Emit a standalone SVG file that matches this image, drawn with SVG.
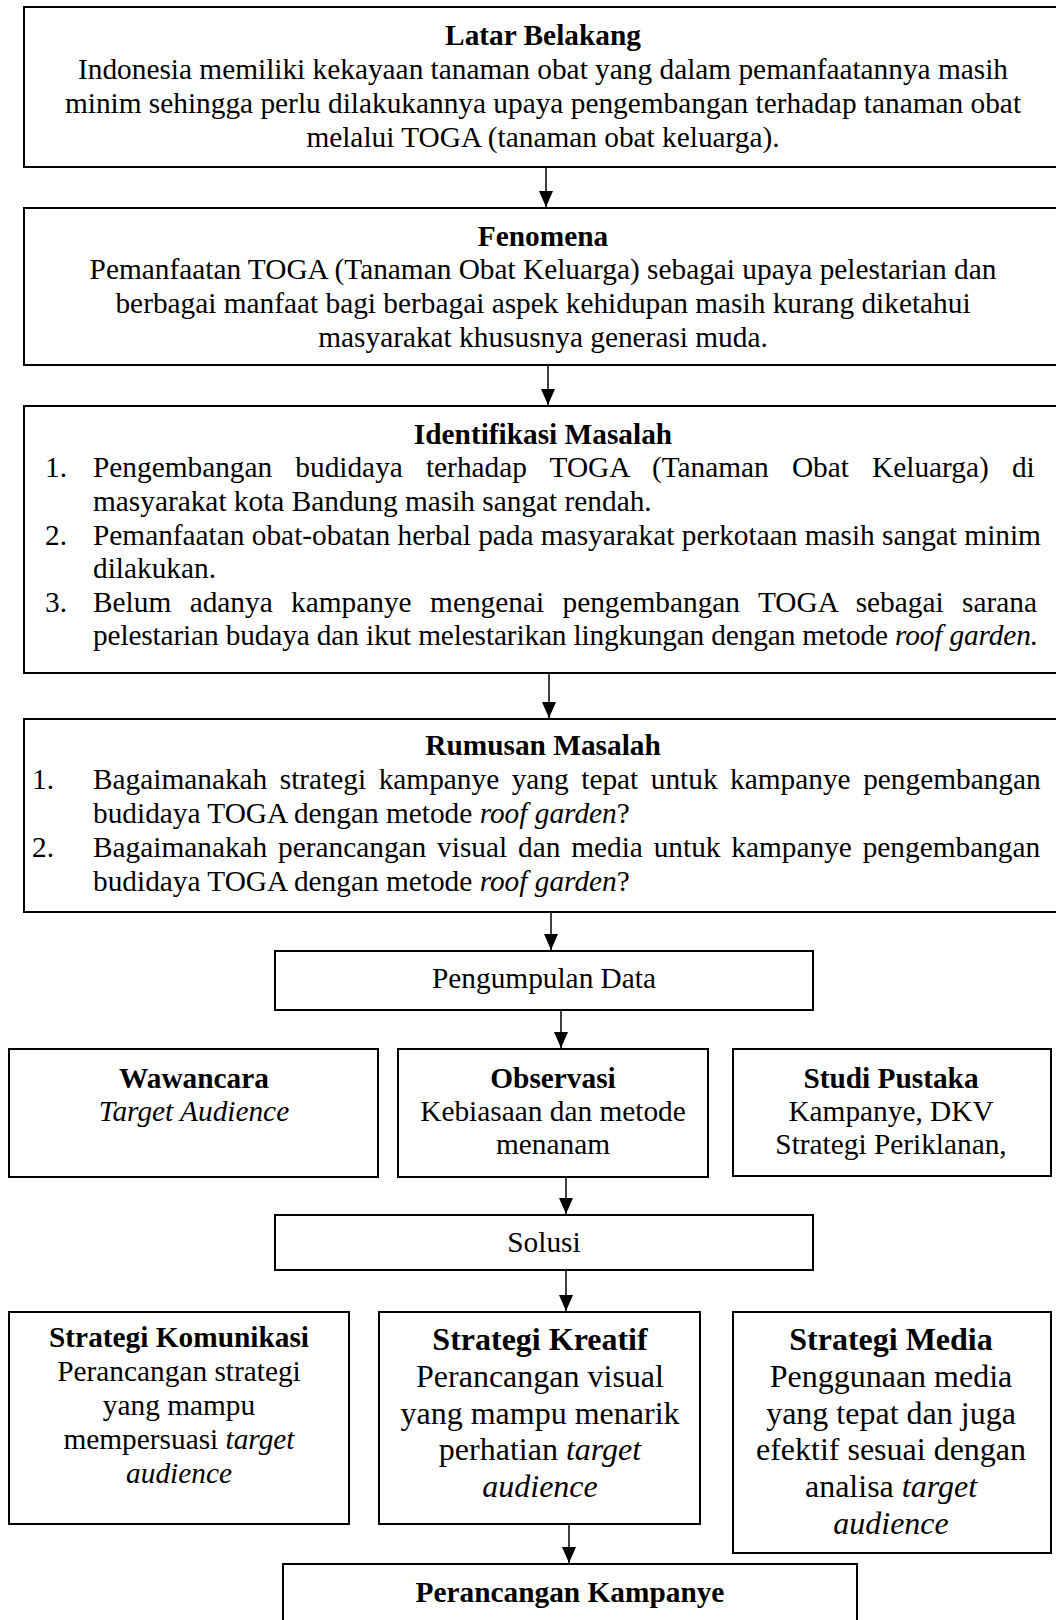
<svg xmlns="http://www.w3.org/2000/svg" width="1056" height="1620" viewBox="0 0 1056 1620">
<style>
.box{fill:#fff;stroke:#000;stroke-width:2}
.t{font-family:"Liberation Serif","Times New Roman",serif;font-size:29.33px;fill:#000}
.b{font-weight:bold}
.c{text-anchor:middle}
.i{font-style:italic}
.l{font-size:32px}
.con{stroke:#000;stroke-width:1.5;fill:none;marker-end:url(#ah)}
</style>
<defs>
<marker id="ah" markerUnits="userSpaceOnUse" markerWidth="16" markerHeight="14" refX="16" refY="7" orient="auto">
<path d="M0,0 L16,7 L0,14 z" fill="#000"/>
</marker>
</defs>
<rect width="1056" height="1620" fill="#fff"/>

<g id="connectors">
<line class="con" x1="546" y1="167" x2="546" y2="207"/>
<line class="con" x1="548" y1="365" x2="548" y2="405"/>
<line class="con" x1="549" y1="673" x2="549" y2="718"/>
<line class="con" x1="551" y1="912" x2="551" y2="950"/>
<line class="con" x1="561" y1="1010" x2="561" y2="1048"/>
<line class="con" x1="566" y1="1177" x2="566" y2="1214"/>
<line class="con" x1="566" y1="1270" x2="566" y2="1311"/>
<line class="con" x1="569" y1="1524" x2="569" y2="1563"/>
</g>

<g id="latar-belakang">
<rect class="box" x="24" y="7" width="1040" height="160"/>
<text class="t b c" x="543" y="45">Latar Belakang</text>
<text class="t c" x="543" y="79">Indonesia memiliki kekayaan tanaman obat yang dalam pemanfaatannya masih</text>
<text class="t c" x="543" y="113">minim sehingga perlu dilakukannya upaya pengembangan terhadap tanaman obat</text>
<text class="t c" x="543" y="147">melalui TOGA (tanaman obat keluarga).</text>
</g>

<g id="fenomena">
<rect class="box" x="24" y="208" width="1040" height="157"/>
<text class="t b c" x="543" y="246">Fenomena</text>
<text class="t c" x="543" y="279">Pemanfaatan TOGA (Tanaman Obat Keluarga) sebagai upaya pelestarian dan</text>
<text class="t c" x="543" y="313">berbagai manfaat bagi berbagai aspek kehidupan masih kurang diketahui</text>
<text class="t c" x="543" y="347">masyarakat khususnya generasi muda.</text>
</g>

<g id="identifikasi-masalah">
<rect class="box" x="24" y="406" width="1040" height="267"/>
<text class="t b c" x="543" y="444">Identifikasi Masalah</text>
<text class="t" x="45" y="477">1.</text>
<text class="t" x="93" y="477" style="word-spacing:15.8px">Pengembangan budidaya terhadap TOGA (Tanaman Obat Keluarga) di</text>
<text class="t" x="93" y="511">masyarakat kota Bandung masih sangat rendah.</text>
<text class="t" x="45" y="545">2.</text>
<text class="t" x="93" y="545">Pemanfaatan obat-obatan herbal pada masyarakat perkotaan masih sangat minim</text>
<text class="t" x="93" y="578">dilakukan.</text>
<text class="t" x="45" y="612">3.</text>
<text class="t" x="93" y="612" style="word-spacing:11.1px">Belum adanya kampanye mengenai pengembangan TOGA sebagai sarana</text>
<text class="t" x="93" y="645" textLength="945" lengthAdjust="spacing">pelestarian budaya dan ikut melestarikan lingkungan dengan metode <tspan class="i">roof garden.</tspan></text>
</g>

<g id="rumusan-masalah">
<rect class="box" x="24" y="719" width="1040" height="193"/>
<text class="t b c" x="543" y="755">Rumusan Masalah</text>
<text class="t" x="32" y="789">1.</text>
<text class="t" x="93" y="789" style="word-spacing:5.2px">Bagaimanakah strategi kampanye yang tepat untuk kampanye pengembangan</text>
<text class="t" x="93" y="823">budidaya TOGA dengan metode <tspan class="i">roof garden</tspan>?</text>
<text class="t" x="32" y="857">2.</text>
<text class="t" x="93" y="857" style="word-spacing:3.5px">Bagaimanakah perancangan visual dan media untuk kampanye pengembangan</text>
<text class="t" x="93" y="891">budidaya TOGA dengan metode <tspan class="i">roof garden</tspan>?</text>
</g>

<g id="pengumpulan-data">
<rect class="box" x="275" y="951" width="538" height="59"/>
<text class="t c" x="544" y="988">Pengumpulan Data</text>
</g>

<g id="wawancara">
<rect class="box" x="9" y="1049" width="369" height="128"/>
<text class="t b c" x="194" y="1088">Wawancara</text>
<text class="t i c" x="194" y="1121">Target Audience</text>
</g>

<g id="observasi">
<rect class="box" x="398" y="1049" width="310" height="128"/>
<text class="t b c" x="553" y="1088">Observasi</text>
<text class="t c" x="553" y="1121">Kebiasaan dan metode</text>
<text class="t c" x="553" y="1154">menanam</text>
</g>

<g id="studi-pustaka">
<rect class="box" x="733" y="1049" width="318" height="127"/>
<text class="t b c" x="891" y="1088">Studi Pustaka</text>
<text class="t c" x="891" y="1121">Kampanye, DKV</text>
<text class="t c" x="891" y="1154">Strategi Periklanan,</text>
</g>

<g id="solusi">
<rect class="box" x="275" y="1215" width="538" height="55"/>
<text class="t c" x="544" y="1252">Solusi</text>
</g>

<g id="strategi-komunikasi">
<rect class="box" x="9" y="1312" width="340" height="212"/>
<text class="t b c" x="179" y="1347">Strategi Komunikasi</text>
<text class="t c" x="179" y="1381">Perancangan strategi</text>
<text class="t c" x="179" y="1415">yang mampu</text>
<text class="t c" x="179" y="1449">mempersuasi <tspan class="i">target</tspan></text>
<text class="t i c" x="179" y="1483">audience</text>
</g>

<g id="strategi-kreatif">
<rect class="box" x="379" y="1312" width="321" height="212"/>
<text class="t l b c" x="540" y="1350">Strategi Kreatif</text>
<text class="t l c" x="540" y="1387">Perancangan visual</text>
<text class="t l c" x="540" y="1424">yang mampu menarik</text>
<text class="t l c" x="540" y="1460">perhatian <tspan class="i">target</tspan></text>
<text class="t l i c" x="540" y="1497">audience</text>
</g>

<g id="strategi-media">
<rect class="box" x="733" y="1312" width="318" height="241"/>
<text class="t l b c" x="891" y="1350">Strategi Media</text>
<text class="t l c" x="891" y="1387">Penggunaan media</text>
<text class="t l c" x="891" y="1424">yang tepat dan juga</text>
<text class="t l c" x="891" y="1460">efektif sesuai dengan</text>
<text class="t l c" x="891" y="1497">analisa <tspan class="i">target</tspan></text>
<text class="t l i c" x="891" y="1534">audience</text>
</g>

<g id="perancangan-kampanye">
<rect class="box" x="283" y="1564" width="574" height="80"/>
<text class="t b c" x="570" y="1602">Perancangan Kampanye</text>
</g>
</svg>
